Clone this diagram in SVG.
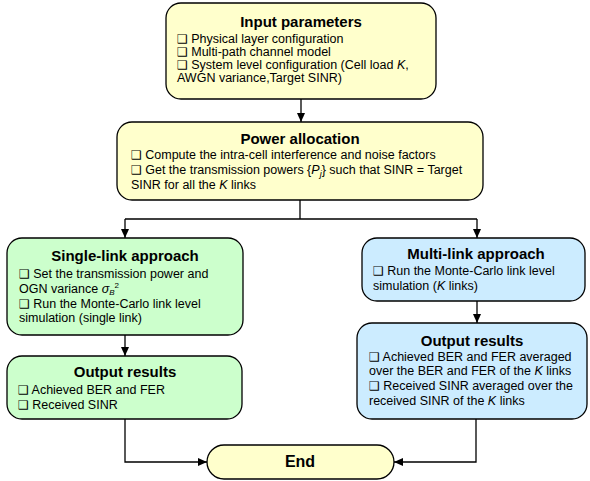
<svg xmlns="http://www.w3.org/2000/svg" width="590" height="481" viewBox="0 0 590 481">
<defs>
<style>
.box{stroke:#000;stroke-width:1.3}
.y{fill:#FFFFCC}
.g{fill:#CCFFCC}
.b{fill:#CCECFF}
.t{font-family:"Liberation Sans",Arial,sans-serif;font-size:15px;font-weight:bold;text-anchor:middle;fill:#000}
.x{font-family:"Liberation Sans",Arial,sans-serif;font-size:12.5px;fill:#000}
.q{font-family:"DejaVu Sans",sans-serif;font-size:12px}
.c{fill:none;stroke:#000;stroke-width:1.3}
.i{font-style:italic}
</style>
<marker id="ah" markerUnits="userSpaceOnUse" markerWidth="9" markerHeight="8" viewBox="0 0 10 10" refX="10" refY="5" orient="auto" preserveAspectRatio="none">
<path d="M0,0 L10,5 L0,10 z" fill="#000"/>
</marker>
</defs>

<g id="connectors">
<path class="c" d="M301,99 V122" marker-end="url(#ah)"/>
<path class="c" d="M300,200 V219 M125,219 H477"/>
<path class="c" d="M125,219 V238" marker-end="url(#ah)"/>
<path class="c" d="M477,219 V238" marker-end="url(#ah)"/>
<path class="c" d="M125,335 V356" marker-end="url(#ah)"/>
<path class="c" d="M477,301 V323" marker-end="url(#ah)"/>
<path class="c" d="M125,419 V462 H207" marker-end="url(#ah)"/>
<path class="c" d="M476,419 V462 H394" marker-end="url(#ah)"/>
</g>

<g id="input">
<rect class="box y" x="166" y="3" width="270" height="96" rx="15"/>
<text class="t" x="301" y="27">Input parameters</text>
<text class="x" x="177" y="43"><tspan class="q">❑</tspan> Physical layer configuration</text>
<text class="x" x="177" y="56"><tspan class="q">❑</tspan> Multi-path channel model</text>
<text class="x" x="177" y="69"><tspan class="q">❑</tspan> System level configuration (Cell load <tspan class="i">K</tspan>,</text>
<text class="x" x="177" y="82">AWGN variance,Target SINR)</text>
</g>

<g id="power">
<rect class="box y" x="117" y="122" width="366" height="78" rx="15"/>
<text class="t" x="300" y="144">Power allocation</text>
<text class="x" x="131" y="159"><tspan class="q">❑</tspan> Compute the intra-cell interference and noise factors</text>
<text class="x" x="131" y="174"><tspan class="q">❑</tspan> Get the transmission powers {<tspan class="i">P</tspan><tspan class="i" font-size="9" dy="3">j</tspan><tspan dy="-3">}</tspan> such that SINR = Target</text>
<text class="x" x="131" y="189">SINR for all the <tspan class="i">K</tspan> links</text>
</g>

<g id="single">
<rect class="box g" x="7" y="238" width="236" height="97" rx="15"/>
<text class="t" x="125" y="261">Single-link approach</text>
<text class="x" x="19" y="278"><tspan class="q">❑</tspan> Set the transmission power and</text>
<text class="x" x="19" y="292.5">OGN variance <tspan class="i">σ</tspan><tspan class="i" font-size="8" dy="2">B</tspan><tspan font-size="8" dy="-7">2</tspan></text>
<text class="x" x="19" y="307.5"><tspan class="q">❑</tspan> Run the Monte-Carlo link level</text>
<text class="x" x="19" y="322">simulation (single link)</text>
</g>

<g id="multi">
<rect class="box b" x="362" y="238" width="223" height="63" rx="15"/>
<text class="t" x="476" y="259">Multi-link approach</text>
<text class="x" x="373" y="275"><tspan class="q">❑</tspan> Run the Monte-Carlo link level</text>
<text class="x" x="373" y="290">simulation (<tspan class="i">K</tspan> links)</text>
</g>

<g id="out-single">
<rect class="box g" x="7" y="356" width="235" height="63" rx="15"/>
<text class="t" x="125" y="377">Output results</text>
<text class="x" x="18" y="394"><tspan class="q">❑</tspan> Achieved BER and FER</text>
<text class="x" x="18" y="409"><tspan class="q">❑</tspan> Received SINR</text>
</g>

<g id="out-multi">
<rect class="box b" x="357" y="323" width="230" height="96" rx="15"/>
<text class="t" x="472" y="346">Output results</text>
<text class="x" x="369" y="361"><tspan class="q">❑</tspan> Achieved BER and FER averaged</text>
<text class="x" x="369" y="375">over the BER and FER of the <tspan class="i">K</tspan> links</text>
<text class="x" x="369" y="390"><tspan class="q">❑</tspan> Received SINR averaged over the</text>
<text class="x" x="369" y="405">received SINR of the <tspan class="i">K</tspan> links</text>
</g>

<g id="end">
<rect class="box y" x="207" y="445" width="187" height="34" rx="17"/>
<text class="t" x="300" y="467" style="font-size:16px">End</text>
</g>
</svg>
